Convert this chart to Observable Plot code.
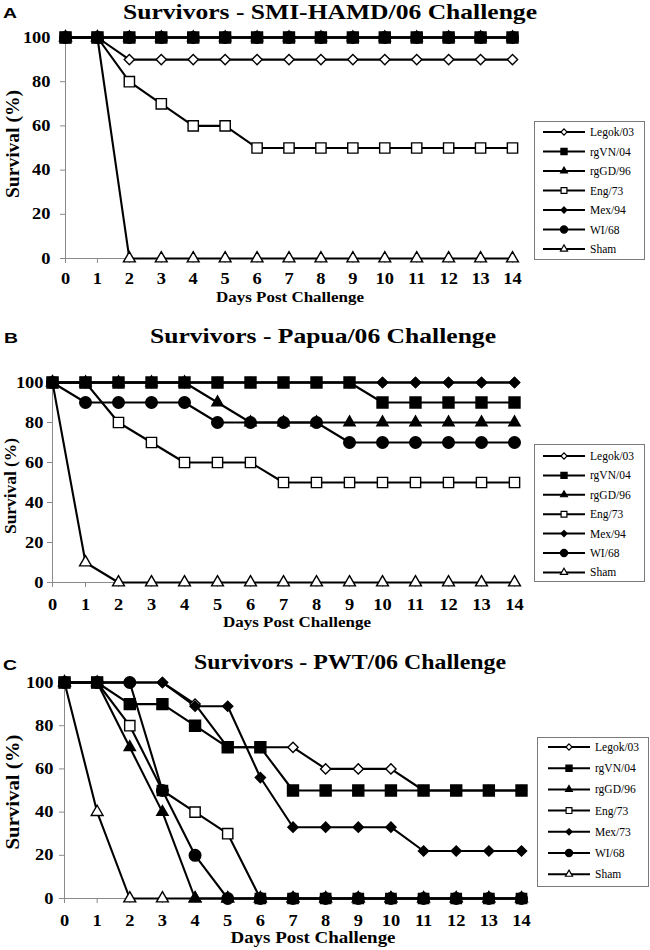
<!DOCTYPE html>
<html><head><meta charset="utf-8">
<script src="https://cdn.jsdelivr.net/npm/d3@7"></script>
<script src="https://cdn.jsdelivr.net/npm/@observablehq/plot@0.6"></script>
<style>
body{margin:0;background:#fff}
#wrap{position:relative;width:650px;height:950px;overflow:hidden;background:#fff}
#wrap > svg{position:absolute;left:0}
</style></head><body><div id="wrap"></div>
<script>
// ---------- data ----------
const days = [0,1,2,3,4,5,6,7,8,9,10,11,12,13,14];
const yTicks = [0,20,40,60,80,100];
const seriesAB = ["Legok/03","rgVN/04","rgGD/96","Eng/73","Mex/94","WI/68","Sham"];
const seriesC  = ["Legok/03","rgVN/04","rgGD/96","Eng/73","Mex/73","WI/68","Sham"];
const titles = ["Survivors - SMI-HAMD/06 Challenge","Survivors - Papua/06 Challenge","Survivors - PWT/06 Challenge"];
const panelLetters = ["A","B","C"];
const xTitle = "Days Post Challenge";
const yTitle = "Survival (%)";

// Panel A (SMI-HAMD/06)
const aLegok = [100,100,90,90,90,90,90,90,90,90,90,90,90,90,90];
const aRgVN  = [100,100,100,100,100,100,100,100,100,100,100,100,100,100,100];
const aRgGD  = [100,100,100,100,100,100,100,100,100,100,100,100,100,100,100];
const aEng   = [100,100,80,70,60,60,50,50,50,50,50,50,50,50,50];
const aMex   = [100,100,100,100,100,100,100,100,100,100,100,100,100,100,100];
const aWI    = [100,100,100,100,100,100,100,100,100,100,100,100,100,100,100];
const aSham  = [100,100,0,0,0,0,0,0,0,0,0,0,0,0,0];

// Panel B (Papua/06)
const bLegok = [100,100,100,100,100,100,100,100,100,100,100,100,100,100,100];
const bRgVN  = [100,100,100,100,100,100,100,100,100,100,90,90,90,90,90];
const bRgGD  = [100,100,100,100,100,90,80,80,80,80,80,80,80,80,80];
const bEng   = [100,100,80,70,60,60,60,50,50,50,50,50,50,50,50];
const bMex   = [100,100,100,100,100,100,100,100,100,100,100,100,100,100,100];
const bWI    = [100,90,90,90,90,80,80,80,80,70,70,70,70,70,70];
const bSham  = [100,10,0,0,0,0,0,0,0,0,0,0,0,0,0];

// Panel C (PWT/06)
const cLegok = [100,100,100,100,90,70,70,70,60,60,60,50,50,50,50];
const cRgVN  = [100,100,90,90,80,70,70,50,50,50,50,50,50,50,50];
const cRgGD  = [100,100,70,40,0,0,0,0,0,0,0,0,0,0,0];
const cEng   = [100,100,80,50,40,30,0,0,0,0,0,0,0,0,0];
const cMex   = [100,100,100,100,89,89,56,33,33,33,33,22,22,22,22];
const cWI    = [100,100,100,50,20,0,0,0,0,0,0,0,0,0,0];
const cSham  = [100,40,0,0,0,0,0,0,0,0,0,0,0,0,0];

// ---------- styles ----------
const markerStyles = [
  {symbol: d3.symbolDiamond2, r: 4.6, fill: "white", legendSize: 24},
  {symbol: d3.symbolSquare,   r: 6.2, fill: "black", legendSize: 38},
  {symbol: d3.symbolTriangle, r: 4.2, fill: "black", legendSize: 20},
  {symbol: d3.symbolSquare,   r: 5.8, fill: "white", legendSize: 34},
  {symbol: d3.symbolDiamond2, r: 4.6, fill: "black", legendSize: 24},
  {symbol: d3.symbolCircle,   r: 5.8, fill: "black", legendSize: 40},
  {symbol: d3.symbolTriangle, r: 4.4, fill: "white", legendSize: 22}
];

const panels = [
  {names: seriesAB, values: [aLegok,aRgVN,aRgGD,aEng,aMex,aWI,aSham], order: [6,3,0,2,4,5,1],
   top: 0, height: 300, x0: 65, x14: 512, y100: 37, y0: 258, yPad: 10, xPad: 9,
   legend: {left: 534, right: 644, top: 121, bottom: 259, first: 132, step: 19.5, l1: 543, l2: 585, mx: 564, tx: 590}},
  {names: seriesAB, values: [bLegok,bRgVN,bRgGD,bEng,bMex,bWI,bSham], order: [6,3,0,2,4,5,1],
   top: 355, height: 258, x0: 52, x14: 514, y100: 382, y0: 582, yPad: 4, xPad: 11,
   legend: {left: 534, right: 644, top: 444, bottom: 581, first: 456, step: 19.4, l1: 543, l2: 585, mx: 564, tx: 590}},
  {names: seriesC, values: [cLegok,cRgVN,cRgGD,cEng,cMex,cWI,cSham], order: [6,3,0,2,4,1,5],
   top: 655, height: 285, x0: 64, x14: 521, y100: 682, y0: 898, yPad: 6, xPad: 11,
   legend: {left: 537, right: 648, top: 737, bottom: 886, first: 747, step: 21.2, l1: 548, l2: 590, mx: 569, tx: 595}}
];

const wrap = document.getElementById("wrap");
const axisGrey = "#8a8a8a";
const serif = "'Liberation Serif', 'Times New Roman', Times, serif";
const sans = "'Liberation Sans', Arial, sans-serif";
const stretch = 1.15;

panels.forEach((p) => {
  const rows = [];
  p.names.forEach((name, si) => {
    p.values[si].forEach((v, i) => rows.push({day: days[i], value: v, series: name, si}));
  });
  const dotMarks = p.order.map((si) => {
    const st = markerStyles[si];
    return Plot.dot(rows.filter((d) => d.si === si), {
      x: "day", y: "value", symbol: st.symbol, r: st.r,
      fill: st.fill, stroke: "black", strokeWidth: 1.4
    });
  });
  const chart = Plot.plot({
    width: 650,
    height: p.height,
    marginLeft: p.x0,
    marginRight: 650 - p.x14,
    marginTop: p.y100 - p.top,
    marginBottom: p.top + p.height - p.y0,
    style: `font-family: ${serif}; background: transparent; overflow: visible;`,
    x: {domain: [0, 14], label: null},
    y: {domain: [0, 100], label: null},
    marks: [
      Plot.ruleX([0], {stroke: axisGrey}),
      Plot.ruleY([0], {stroke: axisGrey}),
      Plot.axisY({ticks: yTicks, tickSize: 5, tickPadding: p.yPad, stroke: axisGrey, fill: "black",
                  fontSize: 16, fontWeight: "bold", label: null, tickFormat: (d) => String(d)}),
      Plot.axisX({ticks: days, tickSize: 5, tickPadding: p.xPad, stroke: axisGrey, fill: "black",
                  fontSize: 16, fontWeight: "bold", label: null, tickFormat: (d) => String(d)}),
      Plot.line(rows, {x: "day", y: "value", z: "series", stroke: "black", strokeWidth: 2.1}),
      ...dotMarks
    ]
  });
  chart.setAttribute("font-family", serif);
  // widen tick labels horizontally, like the reference's stretched lettering
  d3.select(chart).selectAll("text").each(function() {
    this.setAttribute("font-family", serif);
    this.setAttribute("font-weight", "bold");
    const t = this.getAttribute("transform");
    if (t && t.includes("translate")) this.setAttribute("transform", t + ` scale(${stretch},1)`);
  });
  chart.style.top = p.top + "px";
  wrap.appendChild(chart);
});

// ---------- overlay: titles, axis labels, legends ----------
const ov = d3.select(wrap).append("svg")
  .attr("width", 650).attr("height", 950)
  .style("position", "absolute").style("left", "0px").style("top", "0px");

const titlePos = [
  {cx: 330, by: 19, len: 414, fs: 21},
  {cx: 323, by: 343, len: 346, fs: 22},
  {cx: 350, by: 669, len: 312, fs: 22}
];
const letterPos = [{x: 3, by: 18}, {x: 4, by: 343}, {x: 3, by: 670}];
const xLabPos = [{cx: 290, by: 302, len: 148, fs: 15}, {cx: 297, by: 627, len: 148, fs: 15}, {cx: 313, by: 943, len: 165, fs: 16}];
const yLabPos = [{bx: 19, cy: 144, len: 108, fs: 18}, {bx: 16, cy: 486, len: 96, fs: 17}, {bx: 19, cy: 792, len: 115, fs: 18}];

panels.forEach((p, k) => {
  const t = titlePos[k];
  ov.append("text").attr("x", t.cx).attr("y", t.by).attr("text-anchor", "middle")
    .attr("font-family", serif).attr("font-weight", "bold").attr("font-size", t.fs)
    .attr("textLength", t.len).attr("lengthAdjust", "spacingAndGlyphs").text(titles[k]);
  const l = letterPos[k];
  ov.append("text").attr("x", l.x).attr("y", l.by)
    .attr("font-family", sans).attr("font-weight", "bold").attr("font-size", 15)
    .attr("textLength", 14).attr("lengthAdjust", "spacingAndGlyphs").text(panelLetters[k]);
  const xl = xLabPos[k];
  ov.append("text").attr("x", xl.cx).attr("y", xl.by).attr("text-anchor", "middle")
    .attr("font-family", serif).attr("font-weight", "bold").attr("font-size", xl.fs)
    .attr("textLength", xl.len).attr("lengthAdjust", "spacingAndGlyphs").text(xTitle);
  const yl = yLabPos[k];
  ov.append("text").attr("transform", `translate(${yl.bx},${yl.cy}) rotate(-90)`).attr("text-anchor", "middle")
    .attr("font-family", serif).attr("font-weight", "bold").attr("font-size", yl.fs)
    .attr("textLength", yl.len).attr("lengthAdjust", "spacingAndGlyphs").text(yTitle);

  // legend
  const L = p.legend;
  ov.append("rect").attr("x", L.left + 0.5).attr("y", L.top + 0.5)
    .attr("width", L.right - L.left).attr("height", L.bottom - L.top)
    .attr("fill", "white").attr("stroke", "#7a7a7a").attr("stroke-width", 1);
  p.names.forEach((name, si) => {
    const y = L.first + L.step * si;
    const st = markerStyles[si];
    ov.append("line").attr("x1", L.l1).attr("x2", L.l2).attr("y1", y).attr("y2", y)
      .attr("stroke", "black").attr("stroke-width", 2);
    ov.append("path").attr("d", d3.symbol(st.symbol, st.legendSize)())
      .attr("transform", `translate(${L.mx},${y})`)
      .attr("fill", st.fill).attr("stroke", "black").attr("stroke-width", 1.2);
    ov.append("text").attr("x", L.tx).attr("y", y).attr("dy", "0.35em")
      .attr("font-family", serif).attr("font-size", 11.5).text(name);
  });
});
</script>
</body></html>
